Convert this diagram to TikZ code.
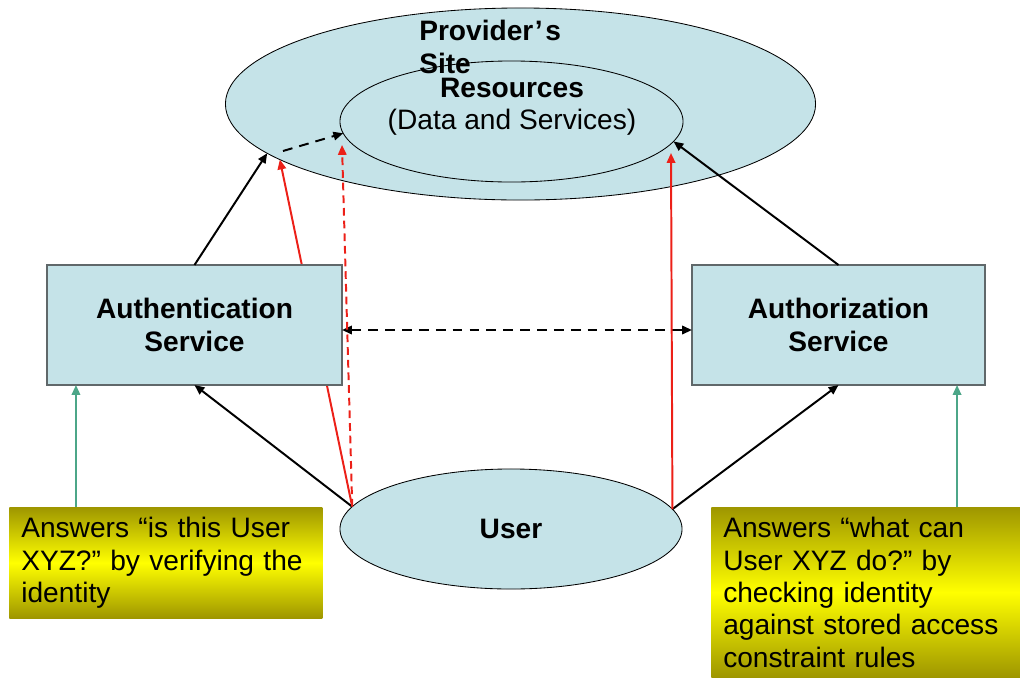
\documentclass[tikz,border=0pt]{standalone}
\usepackage{fontspec}
\setmainfont{Liberation Sans}
\usepackage{xcolor}
\usetikzlibrary{positioning}
\usetikzlibrary{arrows.meta}
\usetikzlibrary{shapes.geometric}
\usetikzlibrary{calc}
\frenchspacing

\definecolor{paleblue}{RGB}{197,227,232}
\definecolor{boxgrey}{RGB}{96,104,106}
\definecolor{arrowred}{RGB}{236,32,24}
\definecolor{notegreen}{RGB}{76,166,136}
\definecolor{noteolive}{RGB}{158,150,0}
\definecolor{noteyellow}{RGB}{255,255,0}

\tikzset{
  blob/.style={ellipse, draw=black, line width=0.6pt, fill=paleblue,
    inner sep=0pt, outer sep=0pt},
  service/.style={rectangle, draw=boxgrey, line width=1pt, fill=paleblue,
    minimum height=3cm, align=center, outer sep=0pt,
    font=\fontsize{20}{23}\selectfont\bfseries},
  note/.style={rectangle, top color=noteolive, bottom color=noteolive,
    middle color=noteyellow, inner xsep=0.3cm, inner ysep=0.25cm,
    align=left, anchor=north west, font=\fontsize{20}{23}\selectfont},
  link/.style={line width=1.4pt, -{Triangle[length=7pt,width=6pt]}},
}

\begin{document}
\begin{tikzpicture}[x=0.025cm, y=-0.025cm]

  \useasboundingbox (0,0) rectangle (1020,679);
  \clip (0,0) rectangle (1020,679);

  % ellipses: site, resources, user
  \node (site) [blob, minimum width=14.75cm, minimum height=4.8cm] at (520.5,104) {};
  \node (res)  [blob, minimum width=8.575cm, minimum height=3.025cm] at (511.5,121.5) {};
  \node (user) [blob, minimum width=8.55cm, minimum height=3cm,
    font=\fontsize{20}{23}\selectfont\bfseries] at (511,529) {User};

  % red path that runs behind the authentication box
  \draw[link, arrowred] (user.172.5) -- (site.193);

  % the two services
  \node (authn) [service, minimum width=7.375cm] at (194.5,325) {Authentication\\Service};
  \node (authz) [service, minimum width=7.325cm] at (838.5,325) {Authorization\\Service};

  % texts in the ellipses
  \node (sitetext) [anchor=north west, inner sep=0pt, align=left,
    font=\fontsize{20}{23}\selectfont\bfseries] at (419,20) {Provider\kern1pt’\kern2pt s\\Site};
  \node (restext) [anchor=north, inner sep=0pt, align=center,
    font=\fontsize{20}{23}\selectfont] at (512,78) {\textbf{Resources}\\(Data and Services)};

  % notes
  \node (notel) [note, text width=7.225cm] at (9,507)
    {Answers “is this User\\XYZ?” by verifying the\\identity};
  \node (notez) [note, text width=7.4cm] at (711,507)
    {Answers “what can\\User XYZ do?” by\\checking identity\\against stored access\\constraint rules};

  % free ends
  \coordinate (dstart) at (283,151);
  \coordinate (rdtip)  at (342,145);
  \coordinate (rtip)   at (671,153);
  \path ([xshift=0.725cm]authn.south west) coordinate (gl);
  \path ([xshift=-0.7cm]authz.south east) coordinate (gr);

  % black arrows
  \draw[link] (authn.north) -- (site.191.6);
  \draw[link] (user.172.5) -- (authn.south);
  \draw[link] (user.7.5) -- (authz.south);
  \draw[link] (authz.north) -- (res.-7);

  % dashed black arrows
  \draw[link, dash pattern=on 7pt off 5pt] (dstart) -- (res.184.5);
  \draw[line width=1.4pt, dash pattern=on 7pt off 5pt,
    {Triangle[length=7pt,width=6pt]}-{Triangle[length=7pt,width=6pt]}]
    ([yshift=-0.125cm]authn.east) -- ([yshift=-0.125cm]authz.west);

  % red arrows
  \draw[link, arrowred, dash pattern=on 5.5pt off 3.5pt] (user.172.5) -- (rdtip);
  \draw[link, arrowred] (user.7.5) -- (rtip);

  % green arrows from the notes
  \draw[link, notegreen] (notel.north -| gl) -- (gl);
  \draw[link, notegreen] (notez.north -| gr) -- (gr);

\end{tikzpicture}
\end{document}
